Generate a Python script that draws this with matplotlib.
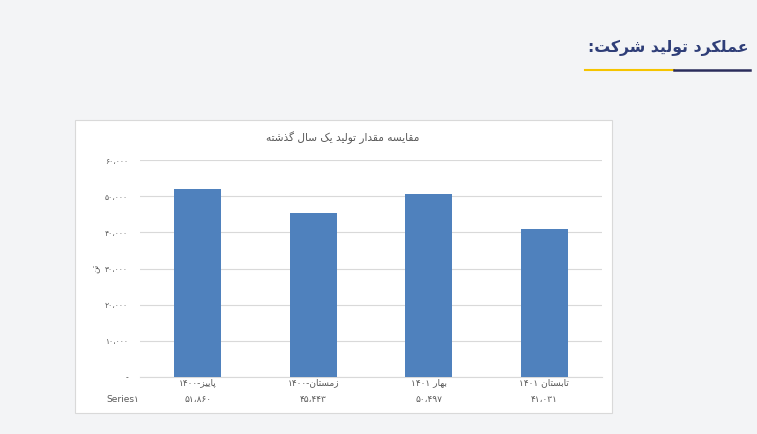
import re

import matplotlib
matplotlib.use("Agg")
import matplotlib.pyplot as plt
from matplotlib.patches import Rectangle

# داده‌ها
categories = ["پاییز-۱۴۰۰", "زمستان-۱۴۰۰", "بهار ۱۴۰۱", "تابستان ۱۴۰۱"]
values = [51860, 45443, 50497, 41031]
y_ticks = [0, 10000, 20000, 30000, 40000, 50000, 60000]
series_name = "Series۱"
chart_title = "مقایسه مقدار تولید یک سال گذشته"
y_label = "تن"
header = "عملکرد تولید شرکت:"

# شکل‌های حروف (جدا، پایانی، آغازی، میانی)
FORMS = {
    "ا": (0xFE8D, 0xFE8E, None, None),
    "ب": (0xFE8F, 0xFE90, 0xFE91, 0xFE92),
    "پ": (0xFB56, 0xFB57, 0xFB58, 0xFB59),
    "ت": (0xFE95, 0xFE96, 0xFE97, 0xFE98),
    "د": (0xFEA9, 0xFEAA, None, None),
    "ذ": (0xFEAB, 0xFEAC, None, None),
    "ر": (0xFEAD, 0xFEAE, None, None),
    "ز": (0xFEAF, 0xFEB0, None, None),
    "س": (0xFEB1, 0xFEB2, 0xFEB3, 0xFEB4),
    "ش": (0xFEB5, 0xFEB6, 0xFEB7, 0xFEB8),
    "ع": (0xFEC9, 0xFECA, 0xFECB, 0xFECC),
    "ق": (0xFED5, 0xFED6, 0xFED7, 0xFED8),
    "ک": (0xFB8E, 0xFB8F, 0xFB90, 0xFB91),
    "گ": (0xFB92, 0xFB93, 0xFB94, 0xFB95),
    "ل": (0xFEDD, 0xFEDE, 0xFEDF, 0xFEE0),
    "م": (0xFEE1, 0xFEE2, 0xFEE3, 0xFEE4),
    "ن": (0xFEE5, 0xFEE6, 0xFEE7, 0xFEE8),
    "ه": (0xFEE9, 0xFEEA, 0xFEEB, 0xFEEC),
    "و": (0xFEED, 0xFEEE, None, None),
    "ی": (0xFBFC, 0xFBFD, 0xFBFE, 0xFBFF),
}

LTR = r"[0-9۰-۹،A-Za-z]"


def fa(text):
    """اتصال حروف و چیدمان راست به چپ (matplotlib خودش این کار را نمی‌کند)."""
    out = []
    for i, ch in enumerate(text):
        if ch not in FORMS:
            out.append(ch)
            continue
        prev = text[i - 1] if i > 0 else ""
        nxt = text[i + 1] if i + 1 < len(text) else ""
        join_prev = prev in FORMS and FORMS[prev][2] is not None
        join_next = nxt in FORMS and FORMS[ch][2] is not None
        iso, fin, ini, med = FORMS[ch]
        if join_prev and join_next:
            out.append(chr(med))
        elif join_prev:
            out.append(chr(fin))
        elif join_next:
            out.append(chr(ini))
        else:
            out.append(chr(iso))
    shaped = "".join(out)
    parts = re.findall(LTR + "+|" + LTR.replace("[", "[^", 1) + "+", shaped)
    res = []
    for p in reversed(parts):
        res.append(p if re.match(LTR, p) else p[::-1])
    return "".join(res)


def fa_num(v):
    if v == 0:
        return "-"
    s = f"{v:,}"
    return s.translate(str.maketrans("0123456789,", "۰۱۲۳۴۵۶۷۸۹،"))


W, H = 757, 434
fig = plt.figure(figsize=(W / 100, H / 100), dpi=100)
fig.patch.set_facecolor("#f3f4f6")

txt_color = "#595959"
grid_color = "#d9d9d9"

# کادر سفید نمودار
box = Rectangle((75 / W, 1 - 413 / H), 537 / W, 293 / H,
                transform=fig.transFigure, facecolor="white",
                edgecolor="#d9d9d9", linewidth=0.8, zorder=-1)
fig.add_artist(box)

# عنوان صفحه و خط زیر آن
fig.text(748 / W, 1 - 48 / H, fa(header), ha="right", va="center",
         fontsize=11.3, fontweight="bold", color="#2f3e78")
fig.add_artist(plt.Line2D([585 / W, 674 / W], [1 - 70 / H, 1 - 70 / H],
                          color="#f5c400", linewidth=1.5))
fig.add_artist(plt.Line2D([674 / W, 750 / W], [1 - 70 / H, 1 - 70 / H],
                          color="#2b2d5c", linewidth=1.8))

ax = fig.add_axes([140 / W, 1 - 377 / H, 462 / W, 217 / H])
ax.set_zorder(2)
ax.set_facecolor("none")
x = range(len(categories))
ax.bar(x, values, width=0.41, color="#4f81bd", zorder=3)
ax.set_xlim(-0.5, len(categories) - 0.5)
ax.set_ylim(0, 60000)
ax.set_yticks(y_ticks)
ax.set_yticklabels([fa_num(v) for v in y_ticks], fontsize=5.5, color=txt_color)
ax.set_xticks([])
ax.tick_params(axis="y", length=0, pad=8.5)
ax.grid(axis="y", color=grid_color, linewidth=0.8, zorder=0)
for s in ["top", "right", "left"]:
    ax.spines[s].set_visible(False)
ax.spines["bottom"].set_color(grid_color)

ax.set_ylabel(fa(y_label), fontsize=6.5, color=txt_color, rotation=90, labelpad=3)

# جدول داده زیر محور
for i, (cat, v) in enumerate(zip(categories, values)):
    ax.text(i, -6 / 217, fa(cat), transform=ax.get_xaxis_transform(),
            ha="center", va="center", fontsize=6.5, color=txt_color)
    ax.text(i, -23 / 217, fa_num(v), transform=ax.get_xaxis_transform(),
            ha="center", va="center", fontsize=6.5, color=txt_color)
fig.text(123 / W, 1 - 400 / H, series_name, ha="center", va="center",
         fontsize=6.5, color=txt_color)

fig.text(343 / W, 1 - 138 / H, fa(chart_title), ha="center", va="center",
         fontsize=7.6, color=txt_color)

fig.savefig("out.png", dpi=100, facecolor=fig.get_facecolor())
